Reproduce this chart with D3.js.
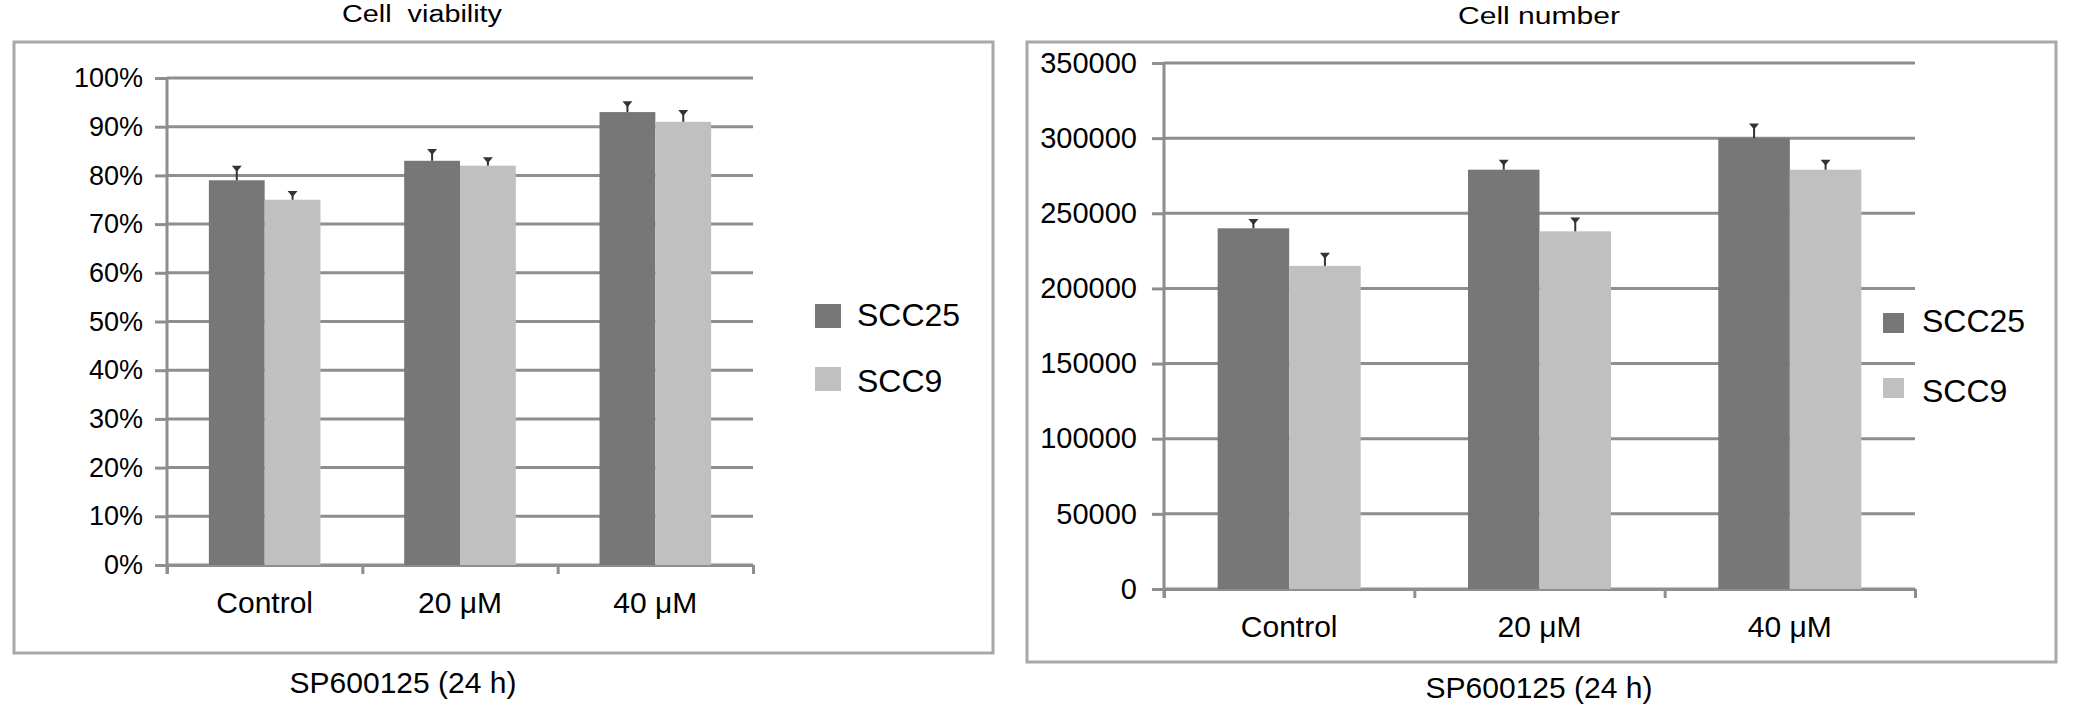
<!DOCTYPE html>
<html>
<head>
<meta charset="utf-8">
<script src="https://cdn.jsdelivr.net/npm/d3@7"></script>
<style>
  html, body { margin: 0; padding: 0; background: #fff; }
  svg text { font-family: "Liberation Sans", Arial, sans-serif; fill: #000; }
</style>
</head>
<body>
<svg id="chart" width="2079" height="706"></svg>
<script>
// ---------- data ----------
const categories = ["Control", "20 \u03bcM", "40 \u03bcM"];
const seriesNames = ["SCC25", "SCC9"];

const viabilitySCC25 = [79, 83, 93];
const viabilitySCC9 = [75, 82, 91];
const viabilityErrSCC25 = [2.8, 2.2, 2.0];
const viabilityErrSCC9 = [1.6, 1.5, 2.2];
const viabilityTicks = [0, 10, 20, 30, 40, 50, 60, 70, 80, 90, 100];

const cellNumberSCC25 = [240000, 279000, 300000];
const cellNumberSCC9 = [215000, 238000, 279000];
const cellNumberErrSCC25 = [5500, 6000, 9000];
const cellNumberErrSCC9 = [8000, 8500, 6000];
const cellNumberTicks = [0, 50000, 100000, 150000, 200000, 250000, 300000, 350000];

const xAxisTitle = "SP600125 (24 h)";

// ---------- styles ----------
const colors = { SCC25: "#777777", SCC9: "#c0c0c0" };
const gridColor = "#8e8e8e";
const frameColor = "#a8a8a8";

const svg = d3.select("#chart");

function drawPanel(cfg) {
  const g = svg.append("g");

  // frame
  g.append("rect")
    .attr("x", cfg.frame[0]).attr("y", cfg.frame[1])
    .attr("width", cfg.frame[2] - cfg.frame[0]).attr("height", cfg.frame[3] - cfg.frame[1])
    .attr("fill", "none").attr("stroke", frameColor).attr("stroke-width", 3);

  // title
  g.append("text")
    .attr("x", cfg.titleX).attr("y", cfg.titleY)
    .attr("text-anchor", "middle")
    .attr("font-size", 23)
    .attr("textLength", cfg.titleLen).attr("lengthAdjust", "spacingAndGlyphs")
    .style("white-space", "pre")
    .text(cfg.title);

  const y = d3.scaleLinear().domain(cfg.yDomain).range([cfg.plot.bottom, cfg.plot.top]);
  const x0 = d3.scaleBand().domain(categories).range([cfg.plot.left, cfg.plot.right]).padding(0);
  const x1 = d3.scaleBand().domain(seriesNames).range([0, x0.bandwidth()])
    .paddingInner(0).paddingOuter(0.75);

  // gridlines
  g.append("g").selectAll("line").data(cfg.yTicks).join("line")
    .attr("x1", cfg.plot.left).attr("x2", cfg.plot.right)
    .attr("y1", d => y(d)).attr("y2", d => y(d))
    .attr("stroke", gridColor).attr("stroke-width", 3);

  // y axis
  const yAxis = d3.axisLeft(y).tickValues(cfg.yTicks).tickSize(12).tickSizeOuter(0)
    .tickPadding(cfg.tickPad).tickFormat(cfg.yFormat);
  const ya = g.append("g").attr("transform", `translate(${cfg.plot.left},0)`).call(yAxis);
  ya.select(".domain").remove();
  ya.selectAll(".tick line").attr("stroke", gridColor).attr("stroke-width", 3);
  ya.selectAll(".tick text").attr("font-size", cfg.tickFont)
    .style("font-family", '"Liberation Sans", Arial, sans-serif').attr("fill", "#000");

  // vertical axis line
  g.append("line")
    .attr("x1", cfg.plot.left).attr("x2", cfg.plot.left)
    .attr("y1", y(cfg.yDomain[1])).attr("y2", cfg.plot.bottom + 9)
    .attr("stroke", gridColor).attr("stroke-width", 3);

  // category axis ticks at band boundaries
  const bx = d3.scaleLinear().domain([0, categories.length]).range([cfg.plot.left, cfg.plot.right]);
  const xAxis = d3.axisBottom(bx).tickValues(d3.range(categories.length + 1)).tickSize(9)
    .tickSizeOuter(0).tickFormat("");
  const xa = g.append("g").attr("transform", `translate(0,${cfg.plot.bottom})`).call(xAxis);
  xa.select(".domain").attr("stroke", gridColor).attr("stroke-width", 3);
  xa.selectAll(".tick line").attr("stroke", gridColor).attr("stroke-width", 3);

  // bars
  const rows = categories.map((c, i) => ({
    cat: c,
    vals: seriesNames.map(s => ({ s, v: cfg.values[s][i], e: cfg.errors[s][i] }))
  }));
  const grp = g.append("g").selectAll("g").data(rows).join("g")
    .attr("transform", d => `translate(${x0(d.cat)},0)`);
  grp.selectAll("rect").data(d => d.vals).join("rect")
    .attr("x", d => x1(d.s)).attr("width", x1.bandwidth())
    .attr("y", d => y(d.v)).attr("height", d => y(cfg.yDomain[0]) - y(d.v))
    .attr("fill", d => colors[d.s]);

  // error bars
  const eb = grp.selectAll("g.err").data(d => d.vals).join("g").attr("class", "err");
  eb.append("line")
    .attr("x1", d => x1(d.s) + x1.bandwidth() / 2).attr("x2", d => x1(d.s) + x1.bandwidth() / 2)
    .attr("y1", d => y(d.v)).attr("y2", d => y(d.v + d.e))
    .attr("stroke", "#333").attr("stroke-width", 2);
  eb.append("path")
    .attr("d", d => {
      const cx = x1(d.s) + x1.bandwidth() / 2, ty = y(d.v + d.e);
      return `M${cx - 5},${ty - 1}L${cx + 5},${ty - 1}L${cx},${ty + 5}Z`;
    })
    .attr("fill", "#333");

  // category labels
  g.append("g").selectAll("text").data(categories).join("text")
    .attr("x", d => x0(d) + x0.bandwidth() / 2).attr("y", cfg.catY)
    .attr("text-anchor", "middle").attr("font-size", 30)
    .text(d => d);

  // x-axis title
  g.append("text")
    .attr("x", cfg.xTitleX).attr("y", cfg.xTitleY)
    .attr("text-anchor", "middle").attr("font-size", 30)
    .text(xAxisTitle);

  // legend
  const lg = g.append("g").selectAll("g").data(seriesNames).join("g");
  lg.append("rect")
    .attr("x", cfg.legend.x).attr("y", (d, i) => cfg.legend.ys[i])
    .attr("width", cfg.legend.size[0]).attr("height", cfg.legend.size[1])
    .attr("fill", d => colors[d]);
  lg.append("text")
    .attr("x", cfg.legend.tx).attr("y", (d, i) => cfg.legend.tys[i])
    .attr("font-size", cfg.legend.font)
    .text(d => d);
}

drawPanel({
  frame: [14, 42, 993, 653],
  title: "Cell  viability", titleX: 422, titleY: 22, titleLen: 160,
  plot: { left: 167, right: 753, top: 78, bottom: 565 },
  yDomain: [0, 100], yTicks: viabilityTicks, yFormat: d => d + "%",
  tickPad: 12, tickFont: 27,
  values: { SCC25: viabilitySCC25, SCC9: viabilitySCC9 },
  errors: { SCC25: viabilityErrSCC25, SCC9: viabilityErrSCC9 },
  catY: 613,
  xTitleX: 403, xTitleY: 693,
  legend: { x: 815, ys: [304, 367], size: [26, 24], tx: 857, tys: [326, 392], font: 32 }
});

drawPanel({
  frame: [1027, 42, 2056, 662],
  title: "Cell number", titleX: 1539, titleY: 24, titleLen: 162,
  plot: { left: 1164, right: 1915, top: 63, bottom: 589 },
  yDomain: [0, 350000], yTicks: cellNumberTicks, yFormat: d => String(d),
  tickPad: 15, tickFont: 29,
  values: { SCC25: cellNumberSCC25, SCC9: cellNumberSCC9 },
  errors: { SCC25: cellNumberErrSCC25, SCC9: cellNumberErrSCC9 },
  catY: 637,
  xTitleX: 1539, xTitleY: 698,
  legend: { x: 1883, ys: [313, 378], size: [21, 20], tx: 1922, tys: [332, 402], font: 32 }
});
</script>
</body>
</html>
